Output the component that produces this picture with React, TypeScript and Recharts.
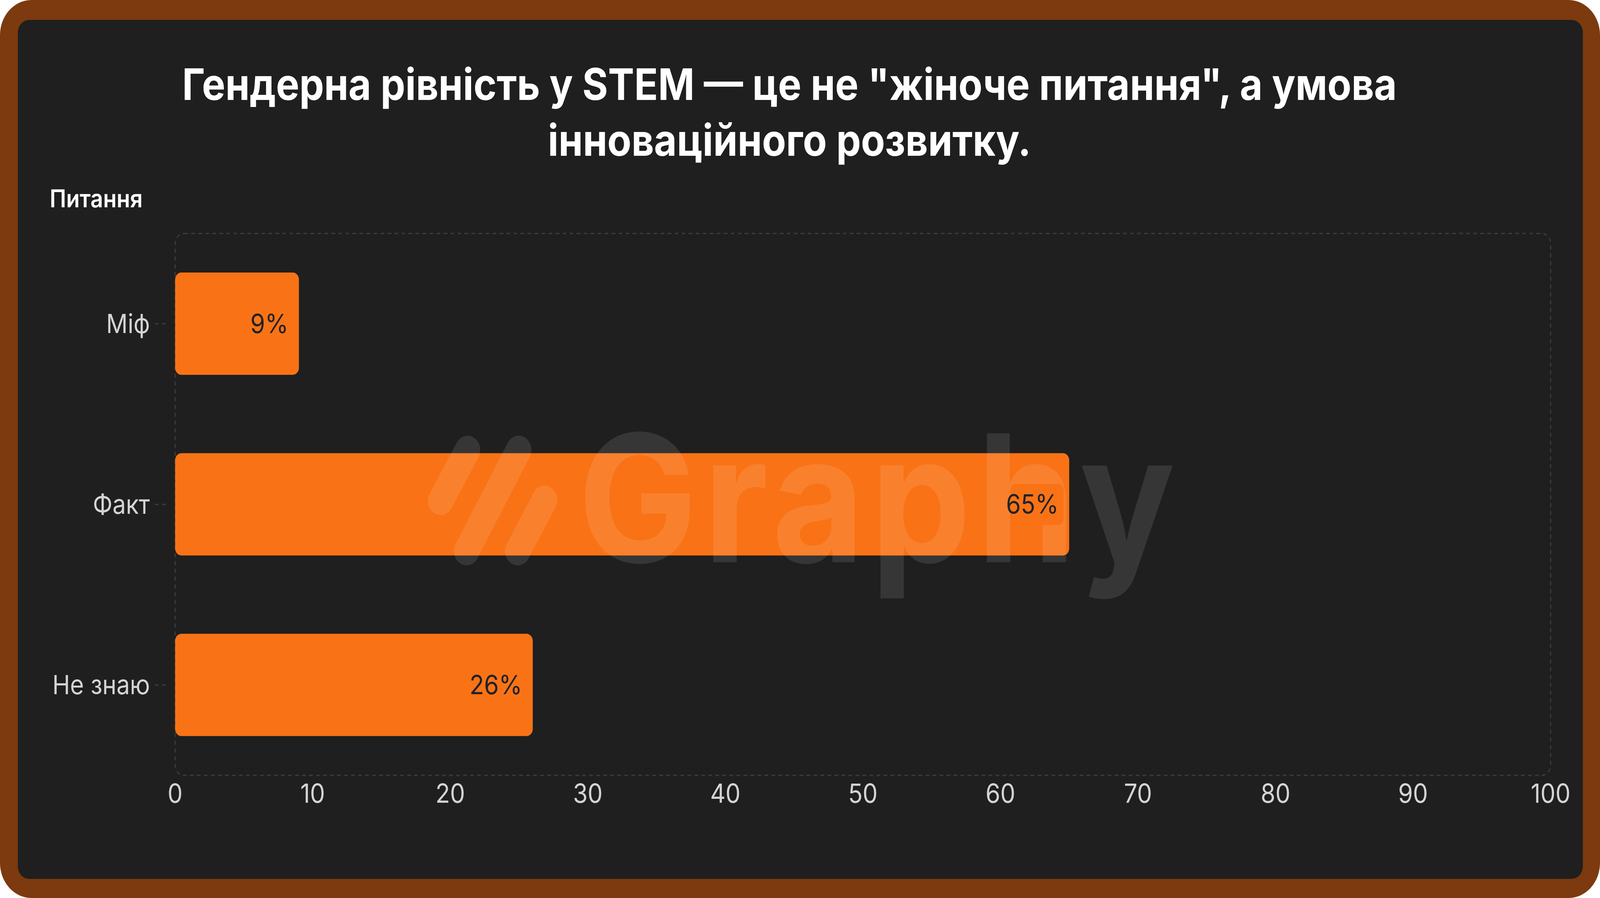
import React from 'react';
import { BarChart, Bar, XAxis, YAxis, LabelList, ReferenceArea } from 'recharts';

const categories = ['Міф', 'Факт', 'Не знаю'];
const shares = [9, 65, 26];
const xTicks = [0, 10, 20, 30, 40, 50, 60, 70, 80, 90, 100];

const TITLE_LINE_1 = 'Гендерна рівність у STEM — це не "жіноче питання", а умова';
const TITLE_LINE_2 = 'інноваційного розвитку.';
const AXIS_TITLE = 'Питання';

const BAR = '#F97316';
const FONT = 'Inter, "Noto Sans", sans-serif';
const W = 4568;
const H = 2300;
const PLOT = { top: 598, right: 141, bottom: 314, left: 500 };

const rows = categories.map((name, i) => ({ name, value: shares[i] }));

// y tick: label plus short dashed tick a bit left of the frame
const YTick = (props: any) => {
  const { x, y, payload } = props;
  return (
    <g>
      <line x1={x - 58} x2={x - 27} y1={y} y2={y} stroke="#3a3a3a" strokeWidth={3.5} strokeDasharray="11 9" />
      <text x={x - 72} y={y} dy="0.35em" textAnchor="end" fill="#d4d4d4" fontSize={68} fontFamily={FONT}>
        {payload.value}
      </text>
    </g>
  );
};

// value label with a bar-coloured backing box (hides the watermark behind it)
const BoxLabel = (props: any) => {
  const vb = props.viewBox ?? props;
  const { x, y, width, height } = vb;
  const text = `${props.value}%`;
  const fs = 68;
  const tw = text.length * fs * 0.62;
  const right = x + width - 30;
  const cy = y + height / 2;
  return (
    <g>
      <rect x={right - tw - 12} y={cy - 52} width={tw + 26} height={105} rx={16} fill={BAR} />
      <text x={right} y={cy} dy="0.35em" textAnchor="end" fill="#1f2228" fontSize={fs} fontFamily={FONT}>
        {text}
      </text>
    </g>
  );
};

const Frame = (props: any) => {
  const { x, y, width, height } = props;
  return (
    <rect x={x} y={y} width={width} height={height} rx={26} fill="none"
      stroke="#3a3a3a" strokeWidth={3.5} strokeDasharray="11 9" />
  );
};

const Watermark = () => (
  <svg width={W} height={H} style={{ position: 'absolute', left: 0, top: 0, pointerEvents: 'none' }}>
    <g opacity={0.1}>
      <g stroke="#ffffff" strokeWidth={72} strokeLinecap="round">
        <line x1={1335} y1={1152} x2={1258} y2={1283} />
        <line x1={1481} y1={1152} x2={1332} y2={1412} />
        <line x1={1555} y1={1280} x2={1478} y2={1412} />
      </g>
      <text x={1650} y={1440} fill="#ffffff" fontSize={454} fontWeight={700} fontFamily={FONT}
        textLength={1705} lengthAdjust="spacing">
        Graphy
      </text>
    </g>
  </svg>
);

const App = () => {
  // the real window may be narrower than the reference; stretch the page to fill it
  const sx = typeof window !== 'undefined' && window.innerWidth ? window.innerWidth / W : 1;
  return (
    <div
      style={{
        position: 'absolute', left: 0, top: 0, width: W, height: H, background: '#ffffff',
        transform: `scale(${sx}, 1)`, transformOrigin: '0 0',
      }}
    >
      <div style={{ position: 'absolute', inset: 0, background: '#7C3A0E', borderRadius: 90 }} />
      <div style={{ position: 'absolute', left: 51, top: 51, right: 49, bottom: 49, background: '#1f1f1f', borderRadius: 32 }} />
      <div
        style={{
          position: 'absolute', left: -30, top: 144, width: W, textAlign: 'center',
          color: '#ffffff', fontFamily: FONT, fontWeight: 700, fontSize: 112, lineHeight: '143px',
        }}
      >
        <div>{TITLE_LINE_1}</div>
        <div>{TITLE_LINE_2}</div>
      </div>
      <div
        style={{
          position: 'absolute', left: 142, top: 477, color: '#ffffff', fontFamily: FONT,
          fontWeight: 600, fontSize: 63, lineHeight: '62px',
        }}
      >
        {AXIS_TITLE}
      </div>

      {/* main chart: frame, axes, bars */}
      <div style={{ position: 'absolute', left: 0, top: 0 }}>
        <BarChart
          width={W}
          height={H}
          data={rows}
          layout="vertical"
          margin={{ top: PLOT.top, right: PLOT.right, bottom: PLOT.bottom - 100, left: PLOT.left - 200 }}
        >
          <XAxis
            type="number"
            domain={[0, 100]}
            ticks={xTicks}
            height={100}
            axisLine={false}
            tickLine={false}
            tickSize={0}
            tickMargin={22}
            tick={{ fill: '#d4d4d4', fontSize: 68, fontFamily: FONT }}
          />
          <YAxis
            type="category"
            dataKey="name"
            width={200}
            axisLine={false}
            tickLine={false}
            tickSize={0}
            tickMargin={0}
            tick={<YTick />}
          />
          <ReferenceArea x1={0} x2={100} shape={<Frame />} />
          <Bar dataKey="value" fill={BAR} barSize={262} radius={18} isAnimationActive={false} />
        </BarChart>
      </div>

      <Watermark />

      {/* value labels drawn on top of the watermark, same plot area */}
      <div style={{ position: 'absolute', left: 0, top: 0, pointerEvents: 'none' }}>
        <BarChart width={W} height={H} data={rows} layout="vertical" margin={PLOT}>
          <XAxis type="number" domain={[0, 100]} hide />
          <YAxis type="category" dataKey="name" hide />
          <Bar dataKey="value" fill="transparent" barSize={262} isAnimationActive={false}>
            <LabelList dataKey="value" content={<BoxLabel />} />
          </Bar>
        </BarChart>
      </div>
    </div>
  );
};

export default App;
